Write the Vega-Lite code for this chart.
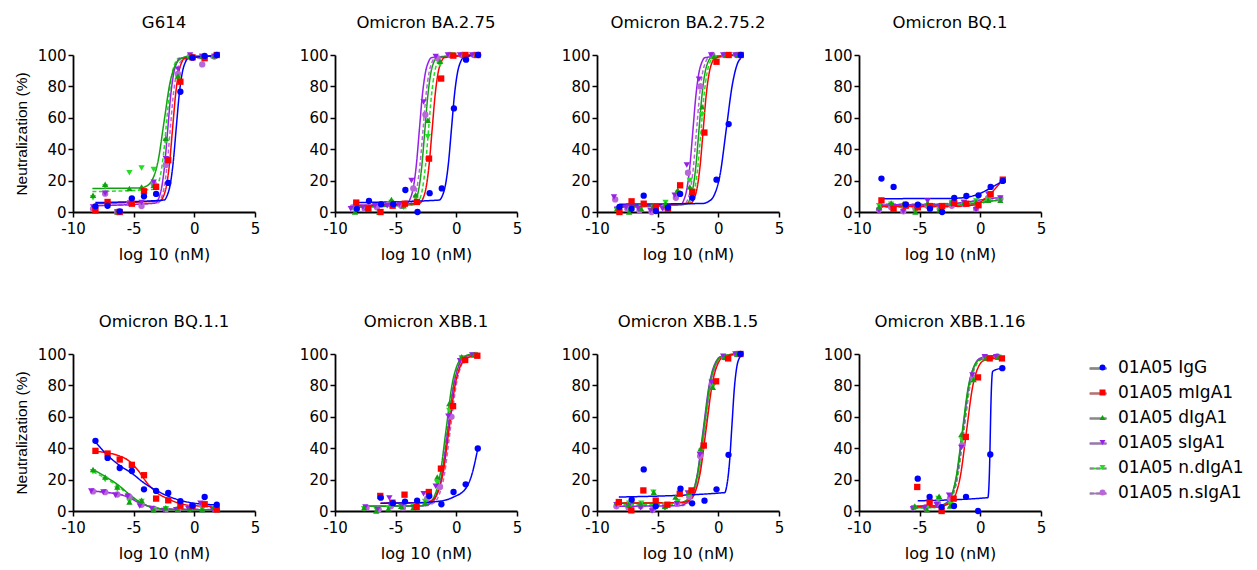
{
"$schema":"https://vega.github.io/schema/vega-lite/v6.json",
"padding":{"left":14,"top":14,"right":5,"bottom":5},
"background":"white",
"bounds":"flush",
"columns":4,
"spacing":{"row":142,"column":80},
"config":{
 "font":"DejaVu Sans",
 "locale":{"number":{"decimal":".","thousands":",","grouping":[3],"currency":["$",""],"minus":"-"}},
 "view":{"stroke":null},
 "axis":{"grid":false,"domainColor":"black","domainWidth":1.8,"tickColor":"black","tickWidth":1.5,"tickSize":5,"labelFont":"DejaVu Sans","labelFontSize":15,"labelColor":"black","labelFlush":false,"titleFont":"DejaVu Sans","titleFontSize":16,"titleFontWeight":"normal","titleColor":"black"},
 "axisX":{"labelPadding":4,"titlePadding":10},
 "axisY":{"labelPadding":2,"titlePadding":8,"titleFont":"Liberation Sans","titleFontSize":15.5},
 "title":{"font":"DejaVu Sans","fontSize":16.5,"fontWeight":"normal","color":"black","anchor":"middle","frame":"group","baseline":"alphabetic","offset":17},
 "legend":{"orient":"none","legendX":1021,"legendY":304,"labelFont":"DejaVu Sans","labelFontSize":17,"labelColor":"black","symbolSize":36,"rowPadding":7,"labelOffset":7,"padding":0}
},
"datasets":{
"pts":[
{"p":1,"s":"n.sIgA1","x":-8.35,"y":2},{"p":1,"s":"n.sIgA1","x":-7.35,"y":11.7},{"p":1,"s":"n.sIgA1","x":-6.35,"y":0},{"p":1,"s":"n.sIgA1","x":-5.35,"y":6},{"p":1,"s":"n.sIgA1","x":-4.35,"y":3.8},{"p":1,"s":"n.sIgA1","x":-3.35,"y":18},{"p":1,"s":"n.sIgA1","x":-2.35,"y":30},{"p":1,"s":"n.sIgA1","x":-1.35,"y":88},{"p":1,"s":"n.sIgA1","x":-0.35,"y":99},{"p":1,"s":"n.sIgA1","x":0.65,"y":94},{"p":1,"s":"n.sIgA1","x":1.65,"y":99},
{"p":1,"s":"n.dIgA1","x":-8.35,"y":9},{"p":1,"s":"n.dIgA1","x":-7.35,"y":16},{"p":1,"s":"n.dIgA1","x":-6.35,"y":0},{"p":1,"s":"n.dIgA1","x":-5.35,"y":25},{"p":1,"s":"n.dIgA1","x":-4.35,"y":28},{"p":1,"s":"n.dIgA1","x":-3.35,"y":27},{"p":1,"s":"n.dIgA1","x":-2.35,"y":45},{"p":1,"s":"n.dIgA1","x":-1.35,"y":85},{"p":1,"s":"n.dIgA1","x":-0.35,"y":99},{"p":1,"s":"n.dIgA1","x":0.65,"y":99},{"p":1,"s":"n.dIgA1","x":1.65,"y":99},
{"p":1,"s":"sIgA1","x":-8.35,"y":3.2},{"p":1,"s":"sIgA1","x":-7.35,"y":12},{"p":1,"s":"sIgA1","x":-6.35,"y":0},{"p":1,"s":"sIgA1","x":-5.35,"y":5},{"p":1,"s":"sIgA1","x":-4.35,"y":6},{"p":1,"s":"sIgA1","x":-3.35,"y":19},{"p":1,"s":"sIgA1","x":-2.35,"y":34},{"p":1,"s":"sIgA1","x":-1.35,"y":91},{"p":1,"s":"sIgA1","x":-0.35,"y":100},{"p":1,"s":"sIgA1","x":0.65,"y":99},{"p":1,"s":"sIgA1","x":1.65,"y":99},
{"p":1,"s":"dIgA1","x":-8.35,"y":10.6},{"p":1,"s":"dIgA1","x":-7.35,"y":17.7},{"p":1,"s":"dIgA1","x":-6.35,"y":0},{"p":1,"s":"dIgA1","x":-5.35,"y":15},{"p":1,"s":"dIgA1","x":-4.35,"y":16},{"p":1,"s":"dIgA1","x":-3.35,"y":17},{"p":1,"s":"dIgA1","x":-2.35,"y":47},{"p":1,"s":"dIgA1","x":-1.35,"y":86.6},{"p":1,"s":"dIgA1","x":-0.35,"y":99},{"p":1,"s":"dIgA1","x":0.65,"y":99},{"p":1,"s":"dIgA1","x":1.65,"y":99.5},
{"p":1,"s":"mIgA1","x":-8.15,"y":1},{"p":1,"s":"mIgA1","x":-7.15,"y":6.4},{"p":1,"s":"mIgA1","x":-6.15,"y":0},{"p":1,"s":"mIgA1","x":-5.15,"y":5.3},{"p":1,"s":"mIgA1","x":-4.15,"y":13.2},{"p":1,"s":"mIgA1","x":-3.15,"y":16},{"p":1,"s":"mIgA1","x":-2.15,"y":33},{"p":1,"s":"mIgA1","x":-1.15,"y":83},{"p":1,"s":"mIgA1","x":-0.15,"y":98.5},{"p":1,"s":"mIgA1","x":0.85,"y":98},{"p":1,"s":"mIgA1","x":1.85,"y":100},
{"p":1,"s":"IgG","x":-8.15,"y":3.6},{"p":1,"s":"IgG","x":-7.15,"y":4},{"p":1,"s":"IgG","x":-6.15,"y":0.4},{"p":1,"s":"IgG","x":-5.15,"y":8.7},{"p":1,"s":"IgG","x":-4.15,"y":10},{"p":1,"s":"IgG","x":-3.15,"y":11.5},{"p":1,"s":"IgG","x":-2.15,"y":18.5},{"p":1,"s":"IgG","x":-1.15,"y":76.6},{"p":1,"s":"IgG","x":-0.15,"y":98.3},{"p":1,"s":"IgG","x":0.85,"y":99.4},{"p":1,"s":"IgG","x":1.85,"y":100},

{"p":2,"s":"n.sIgA1","x":-8.55,"y":3},{"p":2,"s":"n.sIgA1","x":-7.55,"y":2},{"p":2,"s":"n.sIgA1","x":-6.55,"y":3},{"p":2,"s":"n.sIgA1","x":-5.55,"y":5},{"p":2,"s":"n.sIgA1","x":-4.55,"y":4},{"p":2,"s":"n.sIgA1","x":-3.55,"y":15},{"p":2,"s":"n.sIgA1","x":-2.55,"y":62},{"p":2,"s":"n.sIgA1","x":-1.55,"y":98},{"p":2,"s":"n.sIgA1","x":-0.55,"y":100},{"p":2,"s":"n.sIgA1","x":0.45,"y":100},{"p":2,"s":"n.sIgA1","x":1.45,"y":100},
{"p":2,"s":"n.dIgA1","x":-8.35,"y":1},{"p":2,"s":"n.dIgA1","x":-7.35,"y":2},{"p":2,"s":"n.dIgA1","x":-6.35,"y":0},{"p":2,"s":"n.dIgA1","x":-5.35,"y":6},{"p":2,"s":"n.dIgA1","x":-4.35,"y":3},{"p":2,"s":"n.dIgA1","x":-3.35,"y":9},{"p":2,"s":"n.dIgA1","x":-2.35,"y":48},{"p":2,"s":"n.dIgA1","x":-1.35,"y":94},{"p":2,"s":"n.dIgA1","x":-0.35,"y":100},{"p":2,"s":"n.dIgA1","x":0.65,"y":100},{"p":2,"s":"n.dIgA1","x":1.65,"y":100},
{"p":2,"s":"sIgA1","x":-8.7,"y":2},{"p":2,"s":"sIgA1","x":-7.7,"y":3},{"p":2,"s":"sIgA1","x":-6.7,"y":4},{"p":2,"s":"sIgA1","x":-5.7,"y":4},{"p":2,"s":"sIgA1","x":-4.7,"y":5},{"p":2,"s":"sIgA1","x":-3.7,"y":20},{"p":2,"s":"sIgA1","x":-2.7,"y":70},{"p":2,"s":"sIgA1","x":-1.7,"y":99},{"p":2,"s":"sIgA1","x":-0.7,"y":100},{"p":2,"s":"sIgA1","x":0.3,"y":100},{"p":2,"s":"sIgA1","x":1.3,"y":100},
{"p":2,"s":"dIgA1","x":-8.35,"y":0},{"p":2,"s":"dIgA1","x":-7.35,"y":3},{"p":2,"s":"dIgA1","x":-6.35,"y":0},{"p":2,"s":"dIgA1","x":-5.35,"y":8},{"p":2,"s":"dIgA1","x":-4.35,"y":4},{"p":2,"s":"dIgA1","x":-3.35,"y":11},{"p":2,"s":"dIgA1","x":-2.35,"y":58.5},{"p":2,"s":"dIgA1","x":-1.35,"y":96},{"p":2,"s":"dIgA1","x":-0.35,"y":100},{"p":2,"s":"dIgA1","x":0.65,"y":100},{"p":2,"s":"dIgA1","x":1.65,"y":100},
{"p":2,"s":"mIgA1","x":-8.25,"y":6},{"p":2,"s":"mIgA1","x":-7.25,"y":2},{"p":2,"s":"mIgA1","x":-6.25,"y":0},{"p":2,"s":"mIgA1","x":-5.25,"y":4},{"p":2,"s":"mIgA1","x":-4.25,"y":5.3},{"p":2,"s":"mIgA1","x":-3.25,"y":6.4},{"p":2,"s":"mIgA1","x":-2.25,"y":34},{"p":2,"s":"mIgA1","x":-1.25,"y":85},{"p":2,"s":"mIgA1","x":-0.25,"y":99.6},{"p":2,"s":"mIgA1","x":0.75,"y":100},{"p":2,"s":"mIgA1","x":1.75,"y":100},
{"p":2,"s":"IgG","x":-8.2,"y":2},{"p":2,"s":"IgG","x":-7.2,"y":7},{"p":2,"s":"IgG","x":-6.2,"y":5},{"p":2,"s":"IgG","x":-5.2,"y":5},{"p":2,"s":"IgG","x":-4.2,"y":14},{"p":2,"s":"IgG","x":-3.2,"y":0},{"p":2,"s":"IgG","x":-2.2,"y":12},{"p":2,"s":"IgG","x":-1.2,"y":15},{"p":2,"s":"IgG","x":-0.2,"y":66},{"p":2,"s":"IgG","x":0.8,"y":97},{"p":2,"s":"IgG","x":1.8,"y":100},

{"p":3,"s":"n.sIgA1","x":-8.5,"y":8},{"p":3,"s":"n.sIgA1","x":-7.5,"y":2},{"p":3,"s":"n.sIgA1","x":-6.5,"y":1},{"p":3,"s":"n.sIgA1","x":-5.5,"y":0},{"p":3,"s":"n.sIgA1","x":-4.5,"y":3},{"p":3,"s":"n.sIgA1","x":-3.5,"y":9},{"p":3,"s":"n.sIgA1","x":-2.5,"y":25},{"p":3,"s":"n.sIgA1","x":-1.5,"y":80},{"p":3,"s":"n.sIgA1","x":-0.5,"y":100},{"p":3,"s":"n.sIgA1","x":0.5,"y":100},{"p":3,"s":"n.sIgA1","x":1.5,"y":100},
{"p":3,"s":"n.dIgA1","x":-8.35,"y":1},{"p":3,"s":"n.dIgA1","x":-7.35,"y":1},{"p":3,"s":"n.dIgA1","x":-6.35,"y":3},{"p":3,"s":"n.dIgA1","x":-5.35,"y":3},{"p":3,"s":"n.dIgA1","x":-4.35,"y":6},{"p":3,"s":"n.dIgA1","x":-3.35,"y":12},{"p":3,"s":"n.dIgA1","x":-2.35,"y":20},{"p":3,"s":"n.dIgA1","x":-1.35,"y":62},{"p":3,"s":"n.dIgA1","x":-0.35,"y":98},{"p":3,"s":"n.dIgA1","x":0.65,"y":100},{"p":3,"s":"n.dIgA1","x":1.65,"y":100},
{"p":3,"s":"sIgA1","x":-8.6,"y":9.6},{"p":3,"s":"sIgA1","x":-7.6,"y":3},{"p":3,"s":"sIgA1","x":-6.6,"y":2},{"p":3,"s":"sIgA1","x":-5.6,"y":1},{"p":3,"s":"sIgA1","x":-4.6,"y":2},{"p":3,"s":"sIgA1","x":-3.6,"y":10.6},{"p":3,"s":"sIgA1","x":-2.6,"y":30},{"p":3,"s":"sIgA1","x":-1.6,"y":84.5},{"p":3,"s":"sIgA1","x":-0.6,"y":100},{"p":3,"s":"sIgA1","x":0.4,"y":100},{"p":3,"s":"sIgA1","x":1.4,"y":100},
{"p":3,"s":"dIgA1","x":-8.35,"y":2},{"p":3,"s":"dIgA1","x":-7.35,"y":0},{"p":3,"s":"dIgA1","x":-6.35,"y":2},{"p":3,"s":"dIgA1","x":-5.35,"y":4},{"p":3,"s":"dIgA1","x":-4.35,"y":5},{"p":3,"s":"dIgA1","x":-3.35,"y":14},{"p":3,"s":"dIgA1","x":-2.35,"y":16},{"p":3,"s":"dIgA1","x":-1.35,"y":67},{"p":3,"s":"dIgA1","x":-0.35,"y":99},{"p":3,"s":"dIgA1","x":0.65,"y":100},{"p":3,"s":"dIgA1","x":1.65,"y":100},
{"p":3,"s":"mIgA1","x":-8.15,"y":0},{"p":3,"s":"mIgA1","x":-7.15,"y":6.8},{"p":3,"s":"mIgA1","x":-6.15,"y":5.3},{"p":3,"s":"mIgA1","x":-5.15,"y":3},{"p":3,"s":"mIgA1","x":-4.15,"y":2},{"p":3,"s":"mIgA1","x":-3.15,"y":17},{"p":3,"s":"mIgA1","x":-2.15,"y":12.8},{"p":3,"s":"mIgA1","x":-1.15,"y":50.6},{"p":3,"s":"mIgA1","x":-0.15,"y":95.7},{"p":3,"s":"mIgA1","x":0.85,"y":100},{"p":3,"s":"mIgA1","x":1.85,"y":100},
{"p":3,"s":"IgG","x":-8.15,"y":3.2},{"p":3,"s":"IgG","x":-7.15,"y":2},{"p":3,"s":"IgG","x":-6.15,"y":10.4},{"p":3,"s":"IgG","x":-5.15,"y":0.6},{"p":3,"s":"IgG","x":-4.15,"y":2.8},{"p":3,"s":"IgG","x":-3.15,"y":11.5},{"p":3,"s":"IgG","x":-2.15,"y":9},{"p":3,"s":"IgG","x":-0.15,"y":20.6},{"p":3,"s":"IgG","x":0.85,"y":56},{"p":3,"s":"IgG","x":1.85,"y":100},

{"p":4,"s":"n.sIgA1","x":-8.35,"y":1.5},{"p":4,"s":"n.sIgA1","x":-7.35,"y":3},{"p":4,"s":"n.sIgA1","x":-6.35,"y":0.5},{"p":4,"s":"n.sIgA1","x":-5.35,"y":2},{"p":4,"s":"n.sIgA1","x":-4.35,"y":4},{"p":4,"s":"n.sIgA1","x":-3.35,"y":2},{"p":4,"s":"n.sIgA1","x":-2.35,"y":4},{"p":4,"s":"n.sIgA1","x":-1.35,"y":5},{"p":4,"s":"n.sIgA1","x":-0.35,"y":2},{"p":4,"s":"n.sIgA1","x":0.65,"y":9},{"p":4,"s":"n.sIgA1","x":1.65,"y":8.5},
{"p":4,"s":"n.dIgA1","x":-8.35,"y":4},{"p":4,"s":"n.dIgA1","x":-7.35,"y":5},{"p":4,"s":"n.dIgA1","x":-6.35,"y":4},{"p":4,"s":"n.dIgA1","x":-5.35,"y":1},{"p":4,"s":"n.dIgA1","x":-4.35,"y":4},{"p":4,"s":"n.dIgA1","x":-3.35,"y":2},{"p":4,"s":"n.dIgA1","x":-2.35,"y":6},{"p":4,"s":"n.dIgA1","x":-1.35,"y":6},{"p":4,"s":"n.dIgA1","x":-0.35,"y":7},{"p":4,"s":"n.dIgA1","x":0.65,"y":8},{"p":4,"s":"n.dIgA1","x":1.65,"y":8},
{"p":4,"s":"sIgA1","x":-8.35,"y":1},{"p":4,"s":"sIgA1","x":-7.35,"y":4},{"p":4,"s":"sIgA1","x":-6.35,"y":0.4},{"p":4,"s":"sIgA1","x":-5.35,"y":3},{"p":4,"s":"sIgA1","x":-4.35,"y":7},{"p":4,"s":"sIgA1","x":-3.35,"y":3},{"p":4,"s":"sIgA1","x":-2.35,"y":5},{"p":4,"s":"sIgA1","x":-1.35,"y":6},{"p":4,"s":"sIgA1","x":-0.35,"y":1.5},{"p":4,"s":"sIgA1","x":0.65,"y":11.3},{"p":4,"s":"sIgA1","x":1.65,"y":9},
{"p":4,"s":"dIgA1","x":-8.35,"y":3.2},{"p":4,"s":"dIgA1","x":-7.35,"y":5.7},{"p":4,"s":"dIgA1","x":-6.35,"y":5.3},{"p":4,"s":"dIgA1","x":-5.35,"y":0},{"p":4,"s":"dIgA1","x":-4.35,"y":5.7},{"p":4,"s":"dIgA1","x":-3.35,"y":1.5},{"p":4,"s":"dIgA1","x":-2.35,"y":5.7},{"p":4,"s":"dIgA1","x":-1.35,"y":5.7},{"p":4,"s":"dIgA1","x":-0.35,"y":6.6},{"p":4,"s":"dIgA1","x":0.65,"y":7.4},{"p":4,"s":"dIgA1","x":1.65,"y":7.4},
{"p":4,"s":"mIgA1","x":-8.15,"y":7.4},{"p":4,"s":"mIgA1","x":-7.15,"y":2},{"p":4,"s":"mIgA1","x":-6.15,"y":4},{"p":4,"s":"mIgA1","x":-5.15,"y":3},{"p":4,"s":"mIgA1","x":-4.15,"y":3.8},{"p":4,"s":"mIgA1","x":-3.15,"y":3.8},{"p":4,"s":"mIgA1","x":-2.15,"y":5.7},{"p":4,"s":"mIgA1","x":-1.15,"y":5.3},{"p":4,"s":"mIgA1","x":-0.15,"y":4.3},{"p":4,"s":"mIgA1","x":0.85,"y":11.3},{"p":4,"s":"mIgA1","x":1.85,"y":20.6},
{"p":4,"s":"IgG","x":-8.15,"y":21.3},{"p":4,"s":"IgG","x":-7.15,"y":16},{"p":4,"s":"IgG","x":-6.15,"y":4.9},{"p":4,"s":"IgG","x":-5.15,"y":4.7},{"p":4,"s":"IgG","x":-4.15,"y":2.1},{"p":4,"s":"IgG","x":-3.15,"y":0},{"p":4,"s":"IgG","x":-2.15,"y":9},{"p":4,"s":"IgG","x":-1.15,"y":10.2},{"p":4,"s":"IgG","x":-0.15,"y":10.6},{"p":4,"s":"IgG","x":0.85,"y":16},{"p":4,"s":"IgG","x":1.85,"y":19.8},

{"p":5,"s":"n.sIgA1","x":-8.35,"y":12.5},{"p":5,"s":"n.sIgA1","x":-7.35,"y":12},{"p":5,"s":"n.sIgA1","x":-6.35,"y":10.5},{"p":5,"s":"n.sIgA1","x":-5.35,"y":9},{"p":5,"s":"n.sIgA1","x":-4.35,"y":4},{"p":5,"s":"n.sIgA1","x":-3.35,"y":1.5},{"p":5,"s":"n.sIgA1","x":-2.35,"y":1},{"p":5,"s":"n.sIgA1","x":-1.35,"y":1},{"p":5,"s":"n.sIgA1","x":-0.35,"y":2},{"p":5,"s":"n.sIgA1","x":0.65,"y":4},{"p":5,"s":"n.sIgA1","x":1.65,"y":1.5},
{"p":5,"s":"n.dIgA1","x":-8.35,"y":25},{"p":5,"s":"n.dIgA1","x":-7.35,"y":20},{"p":5,"s":"n.dIgA1","x":-6.35,"y":14},{"p":5,"s":"n.dIgA1","x":-5.35,"y":6},{"p":5,"s":"n.dIgA1","x":-4.35,"y":6},{"p":5,"s":"n.dIgA1","x":-3.35,"y":1},{"p":5,"s":"n.dIgA1","x":-2.35,"y":1.5},{"p":5,"s":"n.dIgA1","x":-1.35,"y":1},{"p":5,"s":"n.dIgA1","x":-0.35,"y":1},{"p":5,"s":"n.dIgA1","x":0.65,"y":1},{"p":5,"s":"n.dIgA1","x":1.65,"y":2},
{"p":5,"s":"sIgA1","x":-8.5,"y":12.8},{"p":5,"s":"sIgA1","x":-7.5,"y":12.1},{"p":5,"s":"sIgA1","x":-6.5,"y":10},{"p":5,"s":"sIgA1","x":-5.5,"y":9.4},{"p":5,"s":"sIgA1","x":-4.5,"y":3.2},{"p":5,"s":"sIgA1","x":-3.5,"y":1.5},{"p":5,"s":"sIgA1","x":-2.5,"y":0.4},{"p":5,"s":"sIgA1","x":-1.5,"y":0.85},{"p":5,"s":"sIgA1","x":-0.5,"y":1.5},{"p":5,"s":"sIgA1","x":0.5,"y":5},{"p":5,"s":"sIgA1","x":1.5,"y":1},
{"p":5,"s":"dIgA1","x":-8.35,"y":26.4},{"p":5,"s":"dIgA1","x":-7.35,"y":21.7},{"p":5,"s":"dIgA1","x":-6.35,"y":15.3},{"p":5,"s":"dIgA1","x":-5.35,"y":5.7},{"p":5,"s":"dIgA1","x":-4.35,"y":6.8},{"p":5,"s":"dIgA1","x":-3.35,"y":0.85},{"p":5,"s":"dIgA1","x":-2.35,"y":2},{"p":5,"s":"dIgA1","x":-1.35,"y":1},{"p":5,"s":"dIgA1","x":-0.35,"y":1.5},{"p":5,"s":"dIgA1","x":0.65,"y":1},{"p":5,"s":"dIgA1","x":1.65,"y":2.5},
{"p":5,"s":"mIgA1","x":-8.15,"y":38.3},{"p":5,"s":"mIgA1","x":-7.15,"y":36.6},{"p":5,"s":"mIgA1","x":-6.15,"y":32.8},{"p":5,"s":"mIgA1","x":-5.15,"y":29.4},{"p":5,"s":"mIgA1","x":-4.15,"y":22.8},{"p":5,"s":"mIgA1","x":-3.15,"y":7.9},{"p":5,"s":"mIgA1","x":-2.15,"y":6.8},{"p":5,"s":"mIgA1","x":-1.15,"y":3.4},{"p":5,"s":"mIgA1","x":-0.15,"y":3},{"p":5,"s":"mIgA1","x":0.85,"y":4.3},{"p":5,"s":"mIgA1","x":1.85,"y":1},
{"p":5,"s":"IgG","x":-8.15,"y":44.7},{"p":5,"s":"IgG","x":-7.15,"y":33.8},{"p":5,"s":"IgG","x":-6.15,"y":27.4},{"p":5,"s":"IgG","x":-5.15,"y":25.5},{"p":5,"s":"IgG","x":-4.15,"y":13.8},{"p":5,"s":"IgG","x":-3.15,"y":12.8},{"p":5,"s":"IgG","x":-2.15,"y":11.5},{"p":5,"s":"IgG","x":-1.15,"y":6.2},{"p":5,"s":"IgG","x":-0.15,"y":3.4},{"p":5,"s":"IgG","x":0.85,"y":8.9},{"p":5,"s":"IgG","x":1.85,"y":4},

{"p":6,"s":"n.sIgA1","x":-7.4,"y":2},{"p":6,"s":"n.sIgA1","x":-6.4,"y":1},{"p":6,"s":"n.sIgA1","x":-5.4,"y":3},{"p":6,"s":"n.sIgA1","x":-4.4,"y":2},{"p":6,"s":"n.sIgA1","x":-3.4,"y":3},{"p":6,"s":"n.sIgA1","x":-2.4,"y":8},{"p":6,"s":"n.sIgA1","x":-1.35,"y":15.3},{"p":6,"s":"n.sIgA1","x":-0.4,"y":60},{"p":6,"s":"n.sIgA1","x":0.6,"y":96},{"p":6,"s":"n.sIgA1","x":1.6,"y":99.4},
{"p":6,"s":"n.dIgA1","x":-7.6,"y":1.5},{"p":6,"s":"n.dIgA1","x":-6.6,"y":1},{"p":6,"s":"n.dIgA1","x":-5.6,"y":2},{"p":6,"s":"n.dIgA1","x":-4.55,"y":2.5},{"p":6,"s":"n.dIgA1","x":-3.55,"y":3},{"p":6,"s":"n.dIgA1","x":-2.58,"y":6},{"p":6,"s":"n.dIgA1","x":-1.57,"y":18},{"p":6,"s":"n.dIgA1","x":-0.58,"y":64},{"p":6,"s":"n.dIgA1","x":0.44,"y":97.5},{"p":6,"s":"n.dIgA1","x":1.46,"y":99.4},
{"p":6,"s":"sIgA1","x":-7.5,"y":2.5},{"p":6,"s":"sIgA1","x":-6.5,"y":1},{"p":6,"s":"sIgA1","x":-5.52,"y":8.3},{"p":6,"s":"sIgA1","x":-4.5,"y":3},{"p":6,"s":"sIgA1","x":-3.54,"y":2.1},{"p":6,"s":"sIgA1","x":-2.7,"y":11},{"p":6,"s":"sIgA1","x":-1.7,"y":15.7},{"p":6,"s":"sIgA1","x":-0.66,"y":60.4},{"p":6,"s":"sIgA1","x":0.3,"y":95.7},{"p":6,"s":"sIgA1","x":1.3,"y":99.4},
{"p":6,"s":"dIgA1","x":-7.6,"y":2},{"p":6,"s":"dIgA1","x":-6.6,"y":0},{"p":6,"s":"dIgA1","x":-5.6,"y":1.5},{"p":6,"s":"dIgA1","x":-4.55,"y":3},{"p":6,"s":"dIgA1","x":-3.55,"y":2},{"p":6,"s":"dIgA1","x":-2.58,"y":5.3},{"p":6,"s":"dIgA1","x":-1.57,"y":21.7},{"p":6,"s":"dIgA1","x":-0.58,"y":68.5},{"p":6,"s":"dIgA1","x":0.44,"y":98.3},{"p":6,"s":"dIgA1","x":1.46,"y":99.4},
{"p":6,"s":"mIgA1","x":-6.27,"y":9.6},{"p":6,"s":"mIgA1","x":-5.27,"y":5.3},{"p":6,"s":"mIgA1","x":-4.27,"y":10.4},{"p":6,"s":"mIgA1","x":-3.27,"y":2.6},{"p":6,"s":"mIgA1","x":-2.27,"y":12.1},{"p":6,"s":"mIgA1","x":-1.27,"y":27},{"p":6,"s":"mIgA1","x":-0.27,"y":66.8},{"p":6,"s":"mIgA1","x":0.73,"y":96.2},{"p":6,"s":"mIgA1","x":1.73,"y":98.9},
{"p":6,"s":"IgG","x":-6.23,"y":8.5},{"p":6,"s":"IgG","x":-5.23,"y":5},{"p":6,"s":"IgG","x":-4.23,"y":6},{"p":6,"s":"IgG","x":-3.23,"y":6.6},{"p":6,"s":"IgG","x":-2.23,"y":9.6},{"p":6,"s":"IgG","x":-1.23,"y":4.3},{"p":6,"s":"IgG","x":-0.23,"y":12.1},{"p":6,"s":"IgG","x":0.77,"y":17},{"p":6,"s":"IgG","x":1.77,"y":39.8},

{"p":7,"s":"n.sIgA1","x":-8.4,"y":3},{"p":7,"s":"n.sIgA1","x":-7.4,"y":2},{"p":7,"s":"n.sIgA1","x":-6.4,"y":3},{"p":7,"s":"n.sIgA1","x":-5.4,"y":1},{"p":7,"s":"n.sIgA1","x":-4.4,"y":3},{"p":7,"s":"n.sIgA1","x":-3.4,"y":5},{"p":7,"s":"n.sIgA1","x":-2.4,"y":9},{"p":7,"s":"n.sIgA1","x":-1.5,"y":35},{"p":7,"s":"n.sIgA1","x":-0.5,"y":81},{"p":7,"s":"n.sIgA1","x":0.5,"y":98},{"p":7,"s":"n.sIgA1","x":1.5,"y":100},
{"p":7,"s":"n.dIgA1","x":-8.35,"y":4},{"p":7,"s":"n.dIgA1","x":-7.35,"y":5},{"p":7,"s":"n.dIgA1","x":-6.35,"y":5},{"p":7,"s":"n.dIgA1","x":-5.35,"y":12},{"p":7,"s":"n.dIgA1","x":-4.35,"y":4},{"p":7,"s":"n.dIgA1","x":-3.35,"y":6},{"p":7,"s":"n.dIgA1","x":-2.4,"y":10},{"p":7,"s":"n.dIgA1","x":-1.4,"y":38},{"p":7,"s":"n.dIgA1","x":-0.4,"y":80},{"p":7,"s":"n.dIgA1","x":0.6,"y":98},{"p":7,"s":"n.dIgA1","x":1.6,"y":100},
{"p":7,"s":"sIgA1","x":-8.4,"y":4},{"p":7,"s":"sIgA1","x":-7.4,"y":3},{"p":7,"s":"sIgA1","x":-6.4,"y":2},{"p":7,"s":"sIgA1","x":-5.46,"y":0},{"p":7,"s":"sIgA1","x":-4.4,"y":2},{"p":7,"s":"sIgA1","x":-3.4,"y":4.7},{"p":7,"s":"sIgA1","x":-2.52,"y":11.4},{"p":7,"s":"sIgA1","x":-1.53,"y":36},{"p":7,"s":"sIgA1","x":-0.56,"y":82},{"p":7,"s":"sIgA1","x":0.4,"y":98.5},{"p":7,"s":"sIgA1","x":1.4,"y":100},
{"p":7,"s":"dIgA1","x":-8.35,"y":5.7},{"p":7,"s":"dIgA1","x":-7.4,"y":4},{"p":7,"s":"dIgA1","x":-6.42,"y":4.7},{"p":7,"s":"dIgA1","x":-5.32,"y":12},{"p":7,"s":"dIgA1","x":-4.4,"y":3},{"p":7,"s":"dIgA1","x":-3.53,"y":8.9},{"p":7,"s":"dIgA1","x":-2.43,"y":12},{"p":7,"s":"dIgA1","x":-1.47,"y":39.6},{"p":7,"s":"dIgA1","x":-0.45,"y":78.8},{"p":7,"s":"dIgA1","x":0.51,"y":97.9},{"p":7,"s":"dIgA1","x":1.55,"y":100},
{"p":7,"s":"mIgA1","x":-8.2,"y":5.7},{"p":7,"s":"mIgA1","x":-7.17,"y":0.4},{"p":7,"s":"mIgA1","x":-6.18,"y":13.1},{"p":7,"s":"mIgA1","x":-5.16,"y":6.6},{"p":7,"s":"mIgA1","x":-4.2,"y":4},{"p":7,"s":"mIgA1","x":-3.18,"y":11},{"p":7,"s":"mIgA1","x":-2.21,"y":13.1},{"p":7,"s":"mIgA1","x":-1.2,"y":41.7},{"p":7,"s":"mIgA1","x":-0.18,"y":82.6},{"p":7,"s":"mIgA1","x":0.81,"y":97.2},{"p":7,"s":"mIgA1","x":1.83,"y":100},
{"p":7,"s":"IgG","x":-7.14,"y":7.2},{"p":7,"s":"IgG","x":-6.15,"y":26.5},{"p":7,"s":"IgG","x":-5.16,"y":3},{"p":7,"s":"IgG","x":-3.12,"y":14.2},{"p":7,"s":"IgG","x":-2.16,"y":4.9},{"p":7,"s":"IgG","x":-1.14,"y":6.6},{"p":7,"s":"IgG","x":-0.15,"y":13.8},{"p":7,"s":"IgG","x":0.84,"y":35.8},{"p":7,"s":"IgG","x":1.83,"y":100},

{"p":8,"s":"n.sIgA1","x":-5.5,"y":2},{"p":8,"s":"n.sIgA1","x":-4.5,"y":2.5},{"p":8,"s":"n.sIgA1","x":-3.5,"y":5},{"p":8,"s":"n.sIgA1","x":-2.5,"y":8},{"p":8,"s":"n.sIgA1","x":-1.5,"y":42},{"p":8,"s":"n.sIgA1","x":-0.6,"y":85},{"p":8,"s":"n.sIgA1","x":0.4,"y":98},{"p":8,"s":"n.sIgA1","x":1.4,"y":98.5},
{"p":8,"s":"n.dIgA1","x":-5.45,"y":2},{"p":8,"s":"n.dIgA1","x":-4.45,"y":1.5},{"p":8,"s":"n.dIgA1","x":-3.45,"y":8},{"p":8,"s":"n.dIgA1","x":-2.45,"y":4},{"p":8,"s":"n.dIgA1","x":-1.5,"y":45},{"p":8,"s":"n.dIgA1","x":-0.5,"y":84},{"p":8,"s":"n.dIgA1","x":0.5,"y":97.5},{"p":8,"s":"n.dIgA1","x":1.5,"y":98},
{"p":8,"s":"sIgA1","x":-5.55,"y":1.5},{"p":8,"s":"sIgA1","x":-4.6,"y":2},{"p":8,"s":"sIgA1","x":-3.6,"y":4},{"p":8,"s":"sIgA1","x":-2.58,"y":10},{"p":8,"s":"sIgA1","x":-1.57,"y":40.4},{"p":8,"s":"sIgA1","x":-0.66,"y":86.6},{"p":8,"s":"sIgA1","x":0.36,"y":98.3},{"p":8,"s":"sIgA1","x":1.3,"y":98.3},
{"p":8,"s":"dIgA1","x":-5.4,"y":3.2},{"p":8,"s":"dIgA1","x":-4.4,"y":0.9},{"p":8,"s":"dIgA1","x":-3.4,"y":9.4},{"p":8,"s":"dIgA1","x":-2.5,"y":3.2},{"p":8,"s":"dIgA1","x":-1.57,"y":48.7},{"p":8,"s":"dIgA1","x":-0.55,"y":83.8},{"p":8,"s":"dIgA1","x":0.45,"y":97.5},{"p":8,"s":"dIgA1","x":1.45,"y":98},
{"p":8,"s":"mIgA1","x":-5.2,"y":15.3},{"p":8,"s":"mIgA1","x":-4.18,"y":5.7},{"p":8,"s":"mIgA1","x":-3.19,"y":0},{"p":8,"s":"mIgA1","x":-2.2,"y":7.9},{"p":8,"s":"mIgA1","x":-1.2,"y":47.2},{"p":8,"s":"mIgA1","x":-0.19,"y":85.1},{"p":8,"s":"mIgA1","x":0.77,"y":97.2},{"p":8,"s":"mIgA1","x":1.78,"y":97.2},
{"p":8,"s":"IgG","x":-5.16,"y":20.6},{"p":8,"s":"IgG","x":-4.18,"y":9},{"p":8,"s":"IgG","x":-3.19,"y":2.5},{"p":8,"s":"IgG","x":-2.17,"y":3.2},{"p":8,"s":"IgG","x":-1.18,"y":9},{"p":8,"s":"IgG","x":-0.19,"y":0},{"p":8,"s":"IgG","x":0.82,"y":36},{"p":8,"s":"IgG","x":1.81,"y":91}
],
"crv":[
{"p":1,"s":"n.sIgA1","x":-8.4,"y":4},{"p":1,"s":"n.sIgA1","x":-3.0,"y":5.7},{"p":1,"s":"n.sIgA1","x":-2.75,"y":8.4},{"p":1,"s":"n.sIgA1","x":-2.5,"y":15.2},{"p":1,"s":"n.sIgA1","x":-2.25,"y":29.2},{"p":1,"s":"n.sIgA1","x":-2.0,"y":51.3},{"p":1,"s":"n.sIgA1","x":-1.75,"y":73.3},{"p":1,"s":"n.sIgA1","x":-1.5,"y":87.3},{"p":1,"s":"n.sIgA1","x":-1.25,"y":94.1},{"p":1,"s":"n.sIgA1","x":-1.0,"y":96.8},{"p":1,"s":"n.sIgA1","x":1.85,"y":98.5},
{"p":1,"s":"n.dIgA1","x":-8.4,"y":13},{"p":1,"s":"n.dIgA1","x":-3.3,"y":14.5},{"p":1,"s":"n.dIgA1","x":-3.05,"y":17},{"p":1,"s":"n.dIgA1","x":-2.8,"y":23.2},{"p":1,"s":"n.dIgA1","x":-2.55,"y":36.1},{"p":1,"s":"n.dIgA1","x":-2.3,"y":56.3},{"p":1,"s":"n.dIgA1","x":-2.05,"y":76.4},{"p":1,"s":"n.dIgA1","x":-1.8,"y":89.3},{"p":1,"s":"n.dIgA1","x":-1.55,"y":95.5},{"p":1,"s":"n.dIgA1","x":-1.3,"y":98},{"p":1,"s":"n.dIgA1","x":1.85,"y":99.5},
{"p":1,"s":"sIgA1","x":-8.4,"y":4},{"p":1,"s":"sIgA1","x":-3.2,"y":5.7},{"p":1,"s":"sIgA1","x":-2.95,"y":8.4},{"p":1,"s":"sIgA1","x":-2.7,"y":15.3},{"p":1,"s":"sIgA1","x":-2.45,"y":29.5},{"p":1,"s":"sIgA1","x":-2.2,"y":51.8},{"p":1,"s":"sIgA1","x":-1.95,"y":74},{"p":1,"s":"sIgA1","x":-1.7,"y":88.2},{"p":1,"s":"sIgA1","x":-1.45,"y":95.1},{"p":1,"s":"sIgA1","x":-1.2,"y":97.8},{"p":1,"s":"sIgA1","x":1.85,"y":99.5},
{"p":1,"s":"dIgA1","x":-8.4,"y":15},{"p":1,"s":"dIgA1","x":-4.5,"y":15.3},{"p":1,"s":"dIgA1","x":-4.0,"y":16.3},{"p":1,"s":"dIgA1","x":-3.5,"y":20},{"p":1,"s":"dIgA1","x":-3.0,"y":32},{"p":1,"s":"dIgA1","x":-2.5,"y":57.3},{"p":1,"s":"dIgA1","x":-2.0,"y":82.5},{"p":1,"s":"dIgA1","x":-1.5,"y":94.5},{"p":1,"s":"dIgA1","x":-1.0,"y":98.1},{"p":1,"s":"dIgA1","x":-0.5,"y":99.2},{"p":1,"s":"dIgA1","x":1.85,"y":99.5},
{"p":1,"s":"mIgA1","x":-8.15,"y":5.5},{"p":1,"s":"mIgA1","x":-2.8,"y":7.2},{"p":1,"s":"mIgA1","x":-2.55,"y":9.9},{"p":1,"s":"mIgA1","x":-2.3,"y":16.6},{"p":1,"s":"mIgA1","x":-2.05,"y":30.6},{"p":1,"s":"mIgA1","x":-1.8,"y":52.5},{"p":1,"s":"mIgA1","x":-1.55,"y":74.4},{"p":1,"s":"mIgA1","x":-1.3,"y":88.4},{"p":1,"s":"mIgA1","x":-1.05,"y":95.1},{"p":1,"s":"mIgA1","x":-0.8,"y":97.9},{"p":1,"s":"mIgA1","x":1.85,"y":99.5},
{"p":1,"s":"IgG","x":-8.15,"y":6},{"p":1,"s":"IgG","x":-2.5,"y":7.6},{"p":1,"s":"IgG","x":-2.25,"y":10.3},{"p":1,"s":"IgG","x":-2.0,"y":17},{"p":1,"s":"IgG","x":-1.75,"y":31},{"p":1,"s":"IgG","x":-1.5,"y":52.75},{"p":1,"s":"IgG","x":-1.25,"y":74.5},{"p":1,"s":"IgG","x":-1.0,"y":88.5},{"p":1,"s":"IgG","x":-0.75,"y":95.2},{"p":1,"s":"IgG","x":-0.5,"y":97.9},{"p":1,"s":"IgG","x":1.85,"y":99.5},

{"p":2,"s":"n.sIgA1","x":-8.6,"y":4},{"p":2,"s":"n.sIgA1","x":-3.75,"y":5.7},{"p":2,"s":"n.sIgA1","x":-3.5,"y":8.5},{"p":2,"s":"n.sIgA1","x":-3.25,"y":15.3},{"p":2,"s":"n.sIgA1","x":-3.0,"y":29.6},{"p":2,"s":"n.sIgA1","x":-2.75,"y":52},{"p":2,"s":"n.sIgA1","x":-2.5,"y":74.4},{"p":2,"s":"n.sIgA1","x":-2.25,"y":88.7},{"p":2,"s":"n.sIgA1","x":-2.0,"y":95.5},{"p":2,"s":"n.sIgA1","x":-1.75,"y":98.3},{"p":2,"s":"n.sIgA1","x":1.8,"y":100},
{"p":2,"s":"n.dIgA1","x":-8.6,"y":3},{"p":2,"s":"n.dIgA1","x":-3.3,"y":4.7},{"p":2,"s":"n.dIgA1","x":-3.05,"y":7.5},{"p":2,"s":"n.dIgA1","x":-2.8,"y":14.4},{"p":2,"s":"n.dIgA1","x":-2.55,"y":28.9},{"p":2,"s":"n.dIgA1","x":-2.3,"y":51.5},{"p":2,"s":"n.dIgA1","x":-2.05,"y":74.1},{"p":2,"s":"n.dIgA1","x":-1.8,"y":88.6},{"p":2,"s":"n.dIgA1","x":-1.55,"y":95.5},{"p":2,"s":"n.dIgA1","x":-1.3,"y":98.3},{"p":2,"s":"n.dIgA1","x":1.8,"y":100},
{"p":2,"s":"sIgA1","x":-8.7,"y":4},{"p":2,"s":"sIgA1","x":-4.05,"y":5.7},{"p":2,"s":"sIgA1","x":-3.8,"y":8.5},{"p":2,"s":"sIgA1","x":-3.55,"y":15.3},{"p":2,"s":"sIgA1","x":-3.3,"y":29.6},{"p":2,"s":"sIgA1","x":-3.05,"y":52},{"p":2,"s":"sIgA1","x":-2.8,"y":74.4},{"p":2,"s":"sIgA1","x":-2.55,"y":88.7},{"p":2,"s":"sIgA1","x":-2.3,"y":95.5},{"p":2,"s":"sIgA1","x":-2.05,"y":98.3},{"p":2,"s":"sIgA1","x":1.3,"y":100},
{"p":2,"s":"dIgA1","x":-8.6,"y":3},{"p":2,"s":"dIgA1","x":-3.6,"y":4.7},{"p":2,"s":"dIgA1","x":-3.35,"y":7.5},{"p":2,"s":"dIgA1","x":-3.1,"y":14.4},{"p":2,"s":"dIgA1","x":-2.85,"y":28.9},{"p":2,"s":"dIgA1","x":-2.6,"y":51.5},{"p":2,"s":"dIgA1","x":-2.35,"y":74.1},{"p":2,"s":"dIgA1","x":-2.1,"y":88.6},{"p":2,"s":"dIgA1","x":-1.85,"y":95.5},{"p":2,"s":"dIgA1","x":-1.6,"y":98.3},{"p":2,"s":"dIgA1","x":1.65,"y":100},
{"p":2,"s":"mIgA1","x":-8.3,"y":4},{"p":2,"s":"mIgA1","x":-3.0,"y":5.7},{"p":2,"s":"mIgA1","x":-2.75,"y":8.5},{"p":2,"s":"mIgA1","x":-2.5,"y":15.3},{"p":2,"s":"mIgA1","x":-2.25,"y":29.6},{"p":2,"s":"mIgA1","x":-2.0,"y":52},{"p":2,"s":"mIgA1","x":-1.75,"y":74.4},{"p":2,"s":"mIgA1","x":-1.5,"y":88.7},{"p":2,"s":"mIgA1","x":-1.25,"y":95.5},{"p":2,"s":"mIgA1","x":-1.0,"y":98.3},{"p":2,"s":"mIgA1","x":1.8,"y":100},
{"p":2,"s":"IgG","x":-8.2,"y":6},{"p":2,"s":"IgG","x":-1.4,"y":7.6},{"p":2,"s":"IgG","x":-1.15,"y":10.4},{"p":2,"s":"IgG","x":-0.9,"y":17.1},{"p":2,"s":"IgG","x":-0.65,"y":31.1},{"p":2,"s":"IgG","x":-0.4,"y":53},{"p":2,"s":"IgG","x":-0.15,"y":74.9},{"p":2,"s":"IgG","x":0.1,"y":88.9},{"p":2,"s":"IgG","x":0.35,"y":95.6},{"p":2,"s":"IgG","x":0.6,"y":98.4},{"p":2,"s":"IgG","x":1.8,"y":100},

{"p":3,"s":"n.sIgA1","x":-8.5,"y":3},{"p":3,"s":"n.sIgA1","x":-2.8,"y":4.7},{"p":3,"s":"n.sIgA1","x":-2.55,"y":7.5},{"p":3,"s":"n.sIgA1","x":-2.3,"y":14.4},{"p":3,"s":"n.sIgA1","x":-2.05,"y":28.9},{"p":3,"s":"n.sIgA1","x":-1.8,"y":51.5},{"p":3,"s":"n.sIgA1","x":-1.55,"y":74.1},{"p":3,"s":"n.sIgA1","x":-1.3,"y":88.6},{"p":3,"s":"n.sIgA1","x":-1.05,"y":95.5},{"p":3,"s":"n.sIgA1","x":-0.8,"y":98.3},{"p":3,"s":"n.sIgA1","x":1.65,"y":100},
{"p":3,"s":"n.dIgA1","x":-8.35,"y":3.5},{"p":3,"s":"n.dIgA1","x":-2.43,"y":5.2},{"p":3,"s":"n.dIgA1","x":-2.18,"y":8},{"p":3,"s":"n.dIgA1","x":-1.93,"y":14.9},{"p":3,"s":"n.dIgA1","x":-1.68,"y":29.3},{"p":3,"s":"n.dIgA1","x":-1.43,"y":51.8},{"p":3,"s":"n.dIgA1","x":-1.18,"y":74.3},{"p":3,"s":"n.dIgA1","x":-0.93,"y":88.6},{"p":3,"s":"n.dIgA1","x":-0.68,"y":95.5},{"p":3,"s":"n.dIgA1","x":-0.43,"y":98.3},{"p":3,"s":"n.dIgA1","x":1.65,"y":100},
{"p":3,"s":"sIgA1","x":-8.6,"y":3},{"p":3,"s":"sIgA1","x":-3.1,"y":4.7},{"p":3,"s":"sIgA1","x":-2.85,"y":7.5},{"p":3,"s":"sIgA1","x":-2.6,"y":14.4},{"p":3,"s":"sIgA1","x":-2.35,"y":28.9},{"p":3,"s":"sIgA1","x":-2.1,"y":51.5},{"p":3,"s":"sIgA1","x":-1.85,"y":74.1},{"p":3,"s":"sIgA1","x":-1.6,"y":88.6},{"p":3,"s":"sIgA1","x":-1.35,"y":95.5},{"p":3,"s":"sIgA1","x":-1.1,"y":98.3},{"p":3,"s":"sIgA1","x":1.4,"y":100},
{"p":3,"s":"dIgA1","x":-8.35,"y":3.5},{"p":3,"s":"dIgA1","x":-2.6,"y":5.2},{"p":3,"s":"dIgA1","x":-2.35,"y":8},{"p":3,"s":"dIgA1","x":-2.1,"y":14.9},{"p":3,"s":"dIgA1","x":-1.85,"y":29.3},{"p":3,"s":"dIgA1","x":-1.6,"y":51.8},{"p":3,"s":"dIgA1","x":-1.35,"y":74.3},{"p":3,"s":"dIgA1","x":-1.1,"y":88.6},{"p":3,"s":"dIgA1","x":-0.85,"y":95.5},{"p":3,"s":"dIgA1","x":-0.6,"y":98.3},{"p":3,"s":"dIgA1","x":1.65,"y":100},
{"p":3,"s":"mIgA1","x":-8.15,"y":4},{"p":3,"s":"mIgA1","x":-2.25,"y":5.7},{"p":3,"s":"mIgA1","x":-2.0,"y":8.5},{"p":3,"s":"mIgA1","x":-1.75,"y":15.3},{"p":3,"s":"mIgA1","x":-1.5,"y":29.6},{"p":3,"s":"mIgA1","x":-1.25,"y":52},{"p":3,"s":"mIgA1","x":-1.0,"y":74.4},{"p":3,"s":"mIgA1","x":-0.75,"y":88.7},{"p":3,"s":"mIgA1","x":-0.5,"y":95.5},{"p":3,"s":"mIgA1","x":-0.25,"y":98.3},{"p":3,"s":"mIgA1","x":1.85,"y":100},
{"p":3,"s":"IgG","x":-8.15,"y":5},{"p":3,"s":"IgG","x":-1.35,"y":5.4},{"p":3,"s":"IgG","x":-0.85,"y":6.5},{"p":3,"s":"IgG","x":-0.35,"y":10.6},{"p":3,"s":"IgG","x":0.15,"y":24.1},{"p":3,"s":"IgG","x":0.65,"y":52.5},{"p":3,"s":"IgG","x":1.15,"y":80.9},{"p":3,"s":"IgG","x":1.6,"y":95},{"p":3,"s":"IgG","x":1.85,"y":98},

{"p":4,"s":"n.sIgA1","x":-8.35,"y":3},{"p":4,"s":"n.sIgA1","x":-2,"y":3.5},{"p":4,"s":"n.sIgA1","x":0,"y":5.5},{"p":4,"s":"n.sIgA1","x":1.65,"y":8.5},
{"p":4,"s":"n.dIgA1","x":-8.35,"y":5},{"p":4,"s":"n.dIgA1","x":-3,"y":5.3},{"p":4,"s":"n.dIgA1","x":-1,"y":6},{"p":4,"s":"n.dIgA1","x":0,"y":7},{"p":4,"s":"n.dIgA1","x":1.65,"y":8},
{"p":4,"s":"sIgA1","x":-8.35,"y":4.5},{"p":4,"s":"sIgA1","x":-3,"y":5},{"p":4,"s":"sIgA1","x":-1,"y":6.5},{"p":4,"s":"sIgA1","x":0,"y":7.7},{"p":4,"s":"sIgA1","x":0.65,"y":8.5},{"p":4,"s":"sIgA1","x":1.65,"y":9},
{"p":4,"s":"dIgA1","x":-8.35,"y":4},{"p":4,"s":"dIgA1","x":-3,"y":4.2},{"p":4,"s":"dIgA1","x":-1,"y":5},{"p":4,"s":"dIgA1","x":0,"y":6},{"p":4,"s":"dIgA1","x":1,"y":7},{"p":4,"s":"dIgA1","x":1.65,"y":7.5},
{"p":4,"s":"mIgA1","x":-8.15,"y":3.5},{"p":4,"s":"mIgA1","x":-2,"y":3.6},{"p":4,"s":"mIgA1","x":-0.5,"y":4.5},{"p":4,"s":"mIgA1","x":0.3,"y":8},{"p":4,"s":"mIgA1","x":1,"y":13},{"p":4,"s":"mIgA1","x":1.85,"y":20.6},
{"p":4,"s":"IgG","x":-8.15,"y":8.5},{"p":4,"s":"IgG","x":-3,"y":8.6},{"p":4,"s":"IgG","x":-1.5,"y":9},{"p":4,"s":"IgG","x":-0.5,"y":10.5},{"p":4,"s":"IgG","x":0.3,"y":13},{"p":4,"s":"IgG","x":1,"y":16},{"p":4,"s":"IgG","x":1.85,"y":19.8},

{"p":5,"s":"n.sIgA1","x":-8.35,"y":12.5},{"p":5,"s":"n.sIgA1","x":-7.35,"y":12},{"p":5,"s":"n.sIgA1","x":-6.35,"y":11},{"p":5,"s":"n.sIgA1","x":-5.35,"y":9},{"p":5,"s":"n.sIgA1","x":-4.35,"y":5},{"p":5,"s":"n.sIgA1","x":-3.35,"y":2.5},{"p":5,"s":"n.sIgA1","x":-2.35,"y":1.3},{"p":5,"s":"n.sIgA1","x":1.65,"y":1},
{"p":5,"s":"n.dIgA1","x":-8.35,"y":25},{"p":5,"s":"n.dIgA1","x":-7.35,"y":21},{"p":5,"s":"n.dIgA1","x":-6.35,"y":16},{"p":5,"s":"n.dIgA1","x":-5.35,"y":10},{"p":5,"s":"n.dIgA1","x":-4.35,"y":5},{"p":5,"s":"n.dIgA1","x":-3.35,"y":2},{"p":5,"s":"n.dIgA1","x":-2.35,"y":1},{"p":5,"s":"n.dIgA1","x":1.65,"y":0.8},
{"p":5,"s":"sIgA1","x":-8.5,"y":12.8},{"p":5,"s":"sIgA1","x":-7.5,"y":12.1},{"p":5,"s":"sIgA1","x":-6.5,"y":11},{"p":5,"s":"sIgA1","x":-5.5,"y":9},{"p":5,"s":"sIgA1","x":-4.5,"y":5},{"p":5,"s":"sIgA1","x":-3.5,"y":2.5},{"p":5,"s":"sIgA1","x":-2.5,"y":1.3},{"p":5,"s":"sIgA1","x":1.5,"y":0.8},
{"p":5,"s":"dIgA1","x":-8.35,"y":26.4},{"p":5,"s":"dIgA1","x":-7.35,"y":22},{"p":5,"s":"dIgA1","x":-6.35,"y":17},{"p":5,"s":"dIgA1","x":-5.35,"y":10.6},{"p":5,"s":"dIgA1","x":-4.35,"y":5},{"p":5,"s":"dIgA1","x":-3.35,"y":2},{"p":5,"s":"dIgA1","x":-2.35,"y":1},{"p":5,"s":"dIgA1","x":1.65,"y":0.8},
{"p":5,"s":"mIgA1","x":-8.15,"y":38},{"p":5,"s":"mIgA1","x":-7.15,"y":37},{"p":5,"s":"mIgA1","x":-6.15,"y":35},{"p":5,"s":"mIgA1","x":-5.4,"y":32},{"p":5,"s":"mIgA1","x":-4.6,"y":25.5},{"p":5,"s":"mIgA1","x":-3.9,"y":17.9},{"p":5,"s":"mIgA1","x":-3.15,"y":12},{"p":5,"s":"mIgA1","x":-2.15,"y":7.7},{"p":5,"s":"mIgA1","x":-1.15,"y":4.7},{"p":5,"s":"mIgA1","x":-0.15,"y":3.4},{"p":5,"s":"mIgA1","x":1.85,"y":3},
{"p":5,"s":"IgG","x":-8.15,"y":44},{"p":5,"s":"IgG","x":-7.15,"y":35.5},{"p":5,"s":"IgG","x":-6.15,"y":29},{"p":5,"s":"IgG","x":-5.15,"y":24},{"p":5,"s":"IgG","x":-4.15,"y":17.9},{"p":5,"s":"IgG","x":-3.15,"y":13.2},{"p":5,"s":"IgG","x":-2.15,"y":9.4},{"p":5,"s":"IgG","x":-1.15,"y":6.8},{"p":5,"s":"IgG","x":-0.15,"y":5.1},{"p":5,"s":"IgG","x":0.85,"y":4.3},{"p":5,"s":"IgG","x":1.85,"y":3.8},

{"p":6,"s":"n.sIgA1","x":-7.4,"y":3},{"p":6,"s":"n.sIgA1","x":-2.5,"y":3.4},{"p":6,"s":"n.sIgA1","x":-2.0,"y":4.5},{"p":6,"s":"n.sIgA1","x":-1.5,"y":8.8},{"p":6,"s":"n.sIgA1","x":-1.0,"y":22.5},{"p":6,"s":"n.sIgA1","x":-0.5,"y":51.5},{"p":6,"s":"n.sIgA1","x":0.0,"y":80.5},{"p":6,"s":"n.sIgA1","x":0.5,"y":94.3},{"p":6,"s":"n.sIgA1","x":1.0,"y":98.5},{"p":6,"s":"n.sIgA1","x":1.6,"y":99.8},
{"p":6,"s":"n.dIgA1","x":-7.6,"y":3},{"p":6,"s":"n.dIgA1","x":-2.75,"y":3.4},{"p":6,"s":"n.dIgA1","x":-2.25,"y":4.5},{"p":6,"s":"n.dIgA1","x":-1.75,"y":8.8},{"p":6,"s":"n.dIgA1","x":-1.25,"y":22.5},{"p":6,"s":"n.dIgA1","x":-0.75,"y":51.5},{"p":6,"s":"n.dIgA1","x":-0.25,"y":80.5},{"p":6,"s":"n.dIgA1","x":0.25,"y":94.3},{"p":6,"s":"n.dIgA1","x":0.75,"y":98.5},{"p":6,"s":"n.dIgA1","x":1.46,"y":99.8},
{"p":6,"s":"sIgA1","x":-7.5,"y":3},{"p":6,"s":"sIgA1","x":-2.7,"y":3.4},{"p":6,"s":"sIgA1","x":-2.2,"y":4.5},{"p":6,"s":"sIgA1","x":-1.7,"y":8.8},{"p":6,"s":"sIgA1","x":-1.2,"y":22.5},{"p":6,"s":"sIgA1","x":-0.7,"y":51.5},{"p":6,"s":"sIgA1","x":-0.2,"y":80.5},{"p":6,"s":"sIgA1","x":0.3,"y":94.3},{"p":6,"s":"sIgA1","x":0.8,"y":98.5},{"p":6,"s":"sIgA1","x":1.3,"y":99.7},
{"p":6,"s":"dIgA1","x":-7.6,"y":3},{"p":6,"s":"dIgA1","x":-2.85,"y":3.4},{"p":6,"s":"dIgA1","x":-2.35,"y":4.5},{"p":6,"s":"dIgA1","x":-1.85,"y":8.8},{"p":6,"s":"dIgA1","x":-1.35,"y":22.5},{"p":6,"s":"dIgA1","x":-0.85,"y":51.5},{"p":6,"s":"dIgA1","x":-0.35,"y":80.5},{"p":6,"s":"dIgA1","x":0.15,"y":94.3},{"p":6,"s":"dIgA1","x":0.65,"y":98.5},{"p":6,"s":"dIgA1","x":1.46,"y":100},
{"p":6,"s":"mIgA1","x":-6.27,"y":5},{"p":6,"s":"mIgA1","x":-2.6,"y":5.4},{"p":6,"s":"mIgA1","x":-2.1,"y":6.5},{"p":6,"s":"mIgA1","x":-1.6,"y":10.6},{"p":6,"s":"mIgA1","x":-1.1,"y":23.9},{"p":6,"s":"mIgA1","x":-0.6,"y":52},{"p":6,"s":"mIgA1","x":-0.1,"y":80.1},{"p":6,"s":"mIgA1","x":0.4,"y":93.5},{"p":6,"s":"mIgA1","x":0.9,"y":97.6},{"p":6,"s":"mIgA1","x":1.73,"y":99},
{"p":6,"s":"IgG","x":-6.23,"y":5},{"p":6,"s":"IgG","x":-3,"y":5.2},{"p":6,"s":"IgG","x":-2,"y":5.8},{"p":6,"s":"IgG","x":-1.23,"y":6.4},{"p":6,"s":"IgG","x":-0.23,"y":8.9},{"p":6,"s":"IgG","x":0.77,"y":14.3},{"p":6,"s":"IgG","x":1.3,"y":23.8},{"p":6,"s":"IgG","x":1.77,"y":39.8},

{"p":7,"s":"n.sIgA1","x":-8.4,"y":3},{"p":7,"s":"n.sIgA1","x":-3.1,"y":3.4},{"p":7,"s":"n.sIgA1","x":-2.6,"y":4.5},{"p":7,"s":"n.sIgA1","x":-2.1,"y":8.8},{"p":7,"s":"n.sIgA1","x":-1.6,"y":22.5},{"p":7,"s":"n.sIgA1","x":-1.1,"y":51.5},{"p":7,"s":"n.sIgA1","x":-0.6,"y":80.5},{"p":7,"s":"n.sIgA1","x":-0.1,"y":94.3},{"p":7,"s":"n.sIgA1","x":0.4,"y":98.5},{"p":7,"s":"n.sIgA1","x":1.5,"y":100},
{"p":7,"s":"n.dIgA1","x":-8.35,"y":4},{"p":7,"s":"n.dIgA1","x":-3.15,"y":4.4},{"p":7,"s":"n.dIgA1","x":-2.65,"y":5.5},{"p":7,"s":"n.dIgA1","x":-2.15,"y":9.7},{"p":7,"s":"n.dIgA1","x":-1.65,"y":23.3},{"p":7,"s":"n.dIgA1","x":-1.15,"y":52},{"p":7,"s":"n.dIgA1","x":-0.65,"y":80.7},{"p":7,"s":"n.dIgA1","x":-0.15,"y":94.3},{"p":7,"s":"n.dIgA1","x":0.35,"y":98.5},{"p":7,"s":"n.dIgA1","x":1.6,"y":100},
{"p":7,"s":"sIgA1","x":-8.4,"y":3},{"p":7,"s":"sIgA1","x":-3.25,"y":3.4},{"p":7,"s":"sIgA1","x":-2.75,"y":4.5},{"p":7,"s":"sIgA1","x":-2.25,"y":8.8},{"p":7,"s":"sIgA1","x":-1.75,"y":22.5},{"p":7,"s":"sIgA1","x":-1.25,"y":51.5},{"p":7,"s":"sIgA1","x":-0.75,"y":80.5},{"p":7,"s":"sIgA1","x":-0.25,"y":94.3},{"p":7,"s":"sIgA1","x":0.25,"y":98.5},{"p":7,"s":"sIgA1","x":1.4,"y":100},
{"p":7,"s":"dIgA1","x":-8.35,"y":5},{"p":7,"s":"dIgA1","x":-3.2,"y":5.4},{"p":7,"s":"dIgA1","x":-2.7,"y":6.5},{"p":7,"s":"dIgA1","x":-2.2,"y":10.6},{"p":7,"s":"dIgA1","x":-1.7,"y":24.1},{"p":7,"s":"dIgA1","x":-1.2,"y":52.5},{"p":7,"s":"dIgA1","x":-0.7,"y":80.9},{"p":7,"s":"dIgA1","x":-0.2,"y":94.4},{"p":7,"s":"dIgA1","x":0.3,"y":98.5},{"p":7,"s":"dIgA1","x":1.55,"y":100},
{"p":7,"s":"mIgA1","x":-8.2,"y":5},{"p":7,"s":"mIgA1","x":-3.0,"y":5.4},{"p":7,"s":"mIgA1","x":-2.5,"y":6.5},{"p":7,"s":"mIgA1","x":-2.0,"y":10.6},{"p":7,"s":"mIgA1","x":-1.5,"y":24.1},{"p":7,"s":"mIgA1","x":-1.0,"y":52.5},{"p":7,"s":"mIgA1","x":-0.5,"y":80.9},{"p":7,"s":"mIgA1","x":0.0,"y":94.4},{"p":7,"s":"mIgA1","x":0.5,"y":98.5},{"p":7,"s":"mIgA1","x":1.83,"y":100},
{"p":7,"s":"IgG","x":-8.2,"y":8.9},{"p":7,"s":"IgG","x":0.52,"y":11.7},{"p":7,"s":"IgG","x":0.72,"y":17.2},{"p":7,"s":"IgG","x":0.92,"y":30.8},{"p":7,"s":"IgG","x":1.12,"y":54.5},{"p":7,"s":"IgG","x":1.32,"y":78.1},{"p":7,"s":"IgG","x":1.52,"y":91.7},{"p":7,"s":"IgG","x":1.72,"y":97.2},{"p":7,"s":"IgG","x":1.83,"y":98.5},

{"p":8,"s":"n.sIgA1","x":-5.5,"y":3},{"p":8,"s":"n.sIgA1","x":-3.35,"y":3.4},{"p":8,"s":"n.sIgA1","x":-2.85,"y":4.5},{"p":8,"s":"n.sIgA1","x":-2.35,"y":8.7},{"p":8,"s":"n.sIgA1","x":-1.85,"y":22.3},{"p":8,"s":"n.sIgA1","x":-1.35,"y":51},{"p":8,"s":"n.sIgA1","x":-0.85,"y":79.7},{"p":8,"s":"n.sIgA1","x":-0.35,"y":93.3},{"p":8,"s":"n.sIgA1","x":0.15,"y":97.5},{"p":8,"s":"n.sIgA1","x":1.4,"y":99},
{"p":8,"s":"n.dIgA1","x":-5.45,"y":2},{"p":8,"s":"n.dIgA1","x":-3.4,"y":2.4},{"p":8,"s":"n.dIgA1","x":-2.9,"y":3.5},{"p":8,"s":"n.dIgA1","x":-2.4,"y":7.7},{"p":8,"s":"n.dIgA1","x":-1.9,"y":21.3},{"p":8,"s":"n.dIgA1","x":-1.4,"y":50},{"p":8,"s":"n.dIgA1","x":-0.9,"y":78.7},{"p":8,"s":"n.dIgA1","x":-0.4,"y":92.3},{"p":8,"s":"n.dIgA1","x":0.1,"y":96.5},{"p":8,"s":"n.dIgA1","x":1.5,"y":98},
{"p":8,"s":"sIgA1","x":-5.55,"y":3},{"p":8,"s":"sIgA1","x":-3.45,"y":3.4},{"p":8,"s":"sIgA1","x":-2.95,"y":4.5},{"p":8,"s":"sIgA1","x":-2.45,"y":8.7},{"p":8,"s":"sIgA1","x":-1.95,"y":22.3},{"p":8,"s":"sIgA1","x":-1.45,"y":51},{"p":8,"s":"sIgA1","x":-0.95,"y":79.7},{"p":8,"s":"sIgA1","x":-0.45,"y":93.3},{"p":8,"s":"sIgA1","x":0.05,"y":97.5},{"p":8,"s":"sIgA1","x":1.3,"y":99},
{"p":8,"s":"dIgA1","x":-5.4,"y":2},{"p":8,"s":"dIgA1","x":-3.5,"y":2.4},{"p":8,"s":"dIgA1","x":-3.0,"y":3.5},{"p":8,"s":"dIgA1","x":-2.5,"y":7.7},{"p":8,"s":"dIgA1","x":-2.0,"y":21.3},{"p":8,"s":"dIgA1","x":-1.5,"y":50},{"p":8,"s":"dIgA1","x":-1.0,"y":78.7},{"p":8,"s":"dIgA1","x":-0.5,"y":92.3},{"p":8,"s":"dIgA1","x":0.0,"y":96.5},{"p":8,"s":"dIgA1","x":1.45,"y":98},
{"p":8,"s":"mIgA1","x":-5.2,"y":3},{"p":8,"s":"mIgA1","x":-3.15,"y":3.4},{"p":8,"s":"mIgA1","x":-2.65,"y":4.5},{"p":8,"s":"mIgA1","x":-2.15,"y":8.6},{"p":8,"s":"mIgA1","x":-1.65,"y":22},{"p":8,"s":"mIgA1","x":-1.15,"y":50.3},{"p":8,"s":"mIgA1","x":-0.65,"y":78.5},{"p":8,"s":"mIgA1","x":-0.15,"y":91.9},{"p":8,"s":"mIgA1","x":0.35,"y":96},{"p":8,"s":"mIgA1","x":1.78,"y":97.5},
{"p":8,"s":"IgG","x":-5.16,"y":6.5},{"p":8,"s":"IgG","x":0.62,"y":8.5},{"p":8,"s":"IgG","x":0.72,"y":18.1},{"p":8,"s":"IgG","x":0.77,"y":30.6},{"p":8,"s":"IgG","x":0.82,"y":48.8},{"p":8,"s":"IgG","x":0.87,"y":66.9},{"p":8,"s":"IgG","x":0.92,"y":79.4},{"p":8,"s":"IgG","x":1.02,"y":89},{"p":8,"s":"IgG","x":1.81,"y":91}
]
},
"concat":[
{"title":"G614","width":182,"height":157,"layer":[
 {"data":{"name":"crv"},"transform":[{"filter":"datum.p==1"}],"mark":{"type":"line","interpolate":"monotone","strokeWidth":1.5},"encoding":{"x":{"field":"x","type":"quantitative","scale":{"domain":[-10,5],"nice":false},"axis":{"values":[-10,-5,0,5],"title":"log 10 (nM)"}},"y":{"field":"y","type":"quantitative","scale":{"domain":[0,100],"nice":false},"axis":{"values":[0,20,40,60,80,100],"title":"Neutralization (%)"}},"stroke":{"field":"s","type":"nominal","sort":["IgG","mIgA1","dIgA1","sIgA1","n.dIgA1","n.sIgA1"],"scale":{"range":["#0000FF","#FF0000","#12A012","#9620E8","#22DD22","#B866D8"]},"legend":{"title":null,"labelExpr":"''","labelOpacity":0,"symbolSize":280,"symbolStrokeWidth":1.8,"symbolType":"stroke","legendX":1015.6}},"strokeDash":{"field":"s","type":"nominal","sort":["IgG","mIgA1","dIgA1","sIgA1","n.dIgA1","n.sIgA1"],"scale":{"range":[[1,0],[1,0],[1,0],[1,0],[4,2.5],[4,2.5]]},"legend":{"title":null,"labelExpr":"''","labelOpacity":0,"symbolSize":280,"symbolStrokeWidth":1.8,"symbolType":"stroke","legendX":1015.6}}}},
 {"data":{"name":"pts"},"transform":[{"filter":"datum.p==1"}],"mark":{"type":"point","filled":true,"size":40,"opacity":1},"encoding":{"x":{"field":"x","type":"quantitative","scale":{"domain":[-10,5],"nice":false},"axis":{"values":[-10,-5,0,5],"title":"log 10 (nM)"}},"y":{"field":"y","type":"quantitative","scale":{"domain":[0,100],"nice":false},"axis":{"values":[0,20,40,60,80,100],"title":"Neutralization (%)"}},"color":{"field":"s","type":"nominal","scale":{"domain":["IgG","mIgA1","dIgA1","sIgA1","n.dIgA1","n.sIgA1"],"range":["#0000FF","#FF0000","#12A012","#9620E8","#22DD22","#B866D8"]},"legend":{"title":null,"labelExpr":"'01A05 ' + datum.label"}},"shape":{"field":"s","type":"nominal","scale":{"domain":["IgG","mIgA1","dIgA1","sIgA1","n.dIgA1","n.sIgA1"],"range":["circle","square","triangle-up","triangle-down","triangle-down","circle"]},"legend":{"title":null,"labelExpr":"'01A05 ' + datum.label"}}}}
]},
{"title":"Omicron BA.2.75","width":182,"height":157,"layer":[
 {"data":{"name":"crv"},"transform":[{"filter":"datum.p==2"}],"mark":{"type":"line","interpolate":"monotone","strokeWidth":1.5},"encoding":{"x":{"field":"x","type":"quantitative","scale":{"domain":[-10,5],"nice":false},"axis":{"values":[-10,-5,0,5],"title":"log 10 (nM)"}},"y":{"field":"y","type":"quantitative","scale":{"domain":[0,100],"nice":false},"axis":{"values":[0,20,40,60,80,100],"title":null}},"stroke":{"field":"s","type":"nominal","sort":["IgG","mIgA1","dIgA1","sIgA1","n.dIgA1","n.sIgA1"]},"strokeDash":{"field":"s","type":"nominal","sort":["IgG","mIgA1","dIgA1","sIgA1","n.dIgA1","n.sIgA1"]}}},
 {"data":{"name":"pts"},"transform":[{"filter":"datum.p==2"}],"mark":{"type":"point","filled":true,"size":40,"opacity":1},"encoding":{"x":{"field":"x","type":"quantitative","scale":{"domain":[-10,5],"nice":false},"axis":{"values":[-10,-5,0,5],"title":"log 10 (nM)"}},"y":{"field":"y","type":"quantitative","scale":{"domain":[0,100],"nice":false},"axis":{"values":[0,20,40,60,80,100],"title":null}},"color":{"field":"s","type":"nominal"},"shape":{"field":"s","type":"nominal"}}}
]},
{"title":"Omicron BA.2.75.2","width":182,"height":157,"layer":[
 {"data":{"name":"crv"},"transform":[{"filter":"datum.p==3"}],"mark":{"type":"line","interpolate":"monotone","strokeWidth":1.5},"encoding":{"x":{"field":"x","type":"quantitative","scale":{"domain":[-10,5],"nice":false},"axis":{"values":[-10,-5,0,5],"title":"log 10 (nM)"}},"y":{"field":"y","type":"quantitative","scale":{"domain":[0,100],"nice":false},"axis":{"values":[0,20,40,60,80,100],"title":null}},"stroke":{"field":"s","type":"nominal","sort":["IgG","mIgA1","dIgA1","sIgA1","n.dIgA1","n.sIgA1"]},"strokeDash":{"field":"s","type":"nominal","sort":["IgG","mIgA1","dIgA1","sIgA1","n.dIgA1","n.sIgA1"]}}},
 {"data":{"name":"pts"},"transform":[{"filter":"datum.p==3"}],"mark":{"type":"point","filled":true,"size":40,"opacity":1},"encoding":{"x":{"field":"x","type":"quantitative","scale":{"domain":[-10,5],"nice":false},"axis":{"values":[-10,-5,0,5],"title":"log 10 (nM)"}},"y":{"field":"y","type":"quantitative","scale":{"domain":[0,100],"nice":false},"axis":{"values":[0,20,40,60,80,100],"title":null}},"color":{"field":"s","type":"nominal"},"shape":{"field":"s","type":"nominal"}}}
]},
{"title":"Omicron BQ.1","width":182,"height":157,"layer":[
 {"data":{"name":"crv"},"transform":[{"filter":"datum.p==4"}],"mark":{"type":"line","interpolate":"monotone","strokeWidth":1.5},"encoding":{"x":{"field":"x","type":"quantitative","scale":{"domain":[-10,5],"nice":false},"axis":{"values":[-10,-5,0,5],"title":"log 10 (nM)"}},"y":{"field":"y","type":"quantitative","scale":{"domain":[0,100],"nice":false},"axis":{"values":[0,20,40,60,80,100],"title":null}},"stroke":{"field":"s","type":"nominal","sort":["IgG","mIgA1","dIgA1","sIgA1","n.dIgA1","n.sIgA1"]},"strokeDash":{"field":"s","type":"nominal","sort":["IgG","mIgA1","dIgA1","sIgA1","n.dIgA1","n.sIgA1"]}}},
 {"data":{"name":"pts"},"transform":[{"filter":"datum.p==4"}],"mark":{"type":"point","filled":true,"size":40,"opacity":1},"encoding":{"x":{"field":"x","type":"quantitative","scale":{"domain":[-10,5],"nice":false},"axis":{"values":[-10,-5,0,5],"title":"log 10 (nM)"}},"y":{"field":"y","type":"quantitative","scale":{"domain":[0,100],"nice":false},"axis":{"values":[0,20,40,60,80,100],"title":null}},"color":{"field":"s","type":"nominal"},"shape":{"field":"s","type":"nominal"}}}
]},
{"title":"Omicron BQ.1.1","width":182,"height":157,"layer":[
 {"data":{"name":"crv"},"transform":[{"filter":"datum.p==5"}],"mark":{"type":"line","interpolate":"monotone","strokeWidth":1.5},"encoding":{"x":{"field":"x","type":"quantitative","scale":{"domain":[-10,5],"nice":false},"axis":{"values":[-10,-5,0,5],"title":"log 10 (nM)"}},"y":{"field":"y","type":"quantitative","scale":{"domain":[0,100],"nice":false},"axis":{"values":[0,20,40,60,80,100],"title":"Neutralization (%)"}},"stroke":{"field":"s","type":"nominal","sort":["IgG","mIgA1","dIgA1","sIgA1","n.dIgA1","n.sIgA1"]},"strokeDash":{"field":"s","type":"nominal","sort":["IgG","mIgA1","dIgA1","sIgA1","n.dIgA1","n.sIgA1"]}}},
 {"data":{"name":"pts"},"transform":[{"filter":"datum.p==5"}],"mark":{"type":"point","filled":true,"size":40,"opacity":1},"encoding":{"x":{"field":"x","type":"quantitative","scale":{"domain":[-10,5],"nice":false},"axis":{"values":[-10,-5,0,5],"title":"log 10 (nM)"}},"y":{"field":"y","type":"quantitative","scale":{"domain":[0,100],"nice":false},"axis":{"values":[0,20,40,60,80,100],"title":"Neutralization (%)"}},"color":{"field":"s","type":"nominal"},"shape":{"field":"s","type":"nominal"}}}
]},
{"title":"Omicron XBB.1","width":182,"height":157,"layer":[
 {"data":{"name":"crv"},"transform":[{"filter":"datum.p==6"}],"mark":{"type":"line","interpolate":"monotone","strokeWidth":1.5},"encoding":{"x":{"field":"x","type":"quantitative","scale":{"domain":[-10,5],"nice":false},"axis":{"values":[-10,-5,0,5],"title":"log 10 (nM)"}},"y":{"field":"y","type":"quantitative","scale":{"domain":[0,100],"nice":false},"axis":{"values":[0,20,40,60,80,100],"title":null}},"stroke":{"field":"s","type":"nominal","sort":["IgG","mIgA1","dIgA1","sIgA1","n.dIgA1","n.sIgA1"]},"strokeDash":{"field":"s","type":"nominal","sort":["IgG","mIgA1","dIgA1","sIgA1","n.dIgA1","n.sIgA1"]}}},
 {"data":{"name":"pts"},"transform":[{"filter":"datum.p==6"}],"mark":{"type":"point","filled":true,"size":40,"opacity":1},"encoding":{"x":{"field":"x","type":"quantitative","scale":{"domain":[-10,5],"nice":false},"axis":{"values":[-10,-5,0,5],"title":"log 10 (nM)"}},"y":{"field":"y","type":"quantitative","scale":{"domain":[0,100],"nice":false},"axis":{"values":[0,20,40,60,80,100],"title":null}},"color":{"field":"s","type":"nominal"},"shape":{"field":"s","type":"nominal"}}}
]},
{"title":"Omicron XBB.1.5","width":182,"height":157,"layer":[
 {"data":{"name":"crv"},"transform":[{"filter":"datum.p==7"}],"mark":{"type":"line","interpolate":"monotone","strokeWidth":1.5},"encoding":{"x":{"field":"x","type":"quantitative","scale":{"domain":[-10,5],"nice":false},"axis":{"values":[-10,-5,0,5],"title":"log 10 (nM)"}},"y":{"field":"y","type":"quantitative","scale":{"domain":[0,100],"nice":false},"axis":{"values":[0,20,40,60,80,100],"title":null}},"stroke":{"field":"s","type":"nominal","sort":["IgG","mIgA1","dIgA1","sIgA1","n.dIgA1","n.sIgA1"]},"strokeDash":{"field":"s","type":"nominal","sort":["IgG","mIgA1","dIgA1","sIgA1","n.dIgA1","n.sIgA1"]}}},
 {"data":{"name":"pts"},"transform":[{"filter":"datum.p==7"}],"mark":{"type":"point","filled":true,"size":40,"opacity":1},"encoding":{"x":{"field":"x","type":"quantitative","scale":{"domain":[-10,5],"nice":false},"axis":{"values":[-10,-5,0,5],"title":"log 10 (nM)"}},"y":{"field":"y","type":"quantitative","scale":{"domain":[0,100],"nice":false},"axis":{"values":[0,20,40,60,80,100],"title":null}},"color":{"field":"s","type":"nominal"},"shape":{"field":"s","type":"nominal"}}}
]},
{"title":"Omicron XBB.1.16","width":182,"height":157,"layer":[
 {"data":{"name":"crv"},"transform":[{"filter":"datum.p==8"}],"mark":{"type":"line","interpolate":"monotone","strokeWidth":1.5},"encoding":{"x":{"field":"x","type":"quantitative","scale":{"domain":[-10,5],"nice":false},"axis":{"values":[-10,-5,0,5],"title":"log 10 (nM)"}},"y":{"field":"y","type":"quantitative","scale":{"domain":[0,100],"nice":false},"axis":{"values":[0,20,40,60,80,100],"title":null}},"stroke":{"field":"s","type":"nominal","sort":["IgG","mIgA1","dIgA1","sIgA1","n.dIgA1","n.sIgA1"]},"strokeDash":{"field":"s","type":"nominal","sort":["IgG","mIgA1","dIgA1","sIgA1","n.dIgA1","n.sIgA1"]}}},
 {"data":{"name":"pts"},"transform":[{"filter":"datum.p==8"}],"mark":{"type":"point","filled":true,"size":40,"opacity":1},"encoding":{"x":{"field":"x","type":"quantitative","scale":{"domain":[-10,5],"nice":false},"axis":{"values":[-10,-5,0,5],"title":"log 10 (nM)"}},"y":{"field":"y","type":"quantitative","scale":{"domain":[0,100],"nice":false},"axis":{"values":[0,20,40,60,80,100],"title":null}},"color":{"field":"s","type":"nominal"},"shape":{"field":"s","type":"nominal"}}}
]}
]
}
